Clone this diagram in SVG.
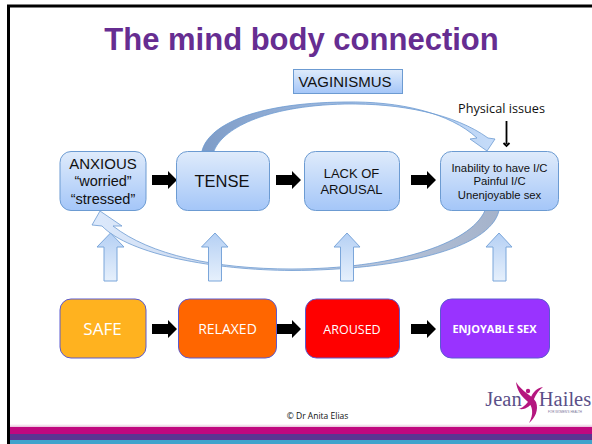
<svg xmlns="http://www.w3.org/2000/svg" width="592" height="444" viewBox="0 0 592 444">
<style>
text{font-family:"Liberation Sans",Arial,sans-serif;text-anchor:middle;fill:#111}
.c{font-family:"Open Sans","Noto Sans",sans-serif}
.w{fill:#fff}
.blue{fill:url(#bg);stroke:#6c9bd2;stroke-width:1}
.col{stroke:#5a5ad0;stroke-width:1}
.up{fill:url(#ug);stroke:#7ba6da;stroke-width:1}
</style>
<defs>
<linearGradient id="bg" x1="0" y1="0" x2="0" y2="1"><stop offset="0" stop-color="#dfebfb"/><stop offset="1" stop-color="#a4c6f8"/></linearGradient>
<linearGradient id="ug" x1="0" y1="0" x2="0" y2="1"><stop offset="0" stop-color="#b5d0f4"/><stop offset="1" stop-color="#e6f0fc"/></linearGradient>
<linearGradient id="tg" gradientUnits="userSpaceOnUse" x1="205" y1="150" x2="490" y2="150"><stop offset="0" stop-color="#7f9dc8"/><stop offset="1" stop-color="#c4dbf9"/></linearGradient>
<linearGradient id="bgc" gradientUnits="userSpaceOnUse" x1="495" y1="210" x2="100" y2="225"><stop offset="0" stop-color="#a5b3cb"/><stop offset="1" stop-color="#dbe8fb"/></linearGradient>
<linearGradient id="fade" x1="0" y1="0" x2="0" y2="1"><stop offset="0" stop-color="#fff"/><stop offset="1" stop-color="#e8c0da"/></linearGradient>
<path id="ba" d="M0-5H16V-9L25 0L16 9V5H0Z" fill="#000"/>
</defs>
<rect width="592" height="444" fill="#fff"/>
<rect x="8.500" y="6" width="600" height="500" fill="none" stroke="#000" stroke-width="3"/>
<rect x="10" y="424" width="582" height="3" fill="url(#fade)"/>
<rect x="10" y="427" width="582" height="7" fill="#c0087f"/>
<rect x="10" y="434" width="582" height="6" fill="#5b3592"/>
<rect x="10" y="440" width="582" height="4" fill="#3fa3cc"/>
<text x="301.500" y="50" font-size="31" font-weight="700" style="fill:#662d91">The mind body connection</text>
<g id="connectors">
<path d="M202 151C208 127 250 103 345 102C400 101 450 113 477 138L470 139L487 151L495 139L488 138C455 114 400 103 345 104C262 106 222 130 214 151Z" fill="url(#tg)" stroke="#6c9bd2" stroke-width=".8"/>
<path d="M485 210.500C470 245 390 269 292 269C215 269 150 255 113 226L122 226L100 211L92 225L102 226C130 255 215 270 292 270.500C395 270 490 250 499 210.500Z" fill="url(#bgc)" stroke="#6c9bd2" stroke-width=".8"/>
<use href="#ba" x="152" y="180"/><use href="#ba" x="276" y="180"/><use href="#ba" x="411" y="180"/>
<use href="#ba" x="152" y="329"/><use href="#ba" x="276" y="329"/><use href="#ba" x="411" y="329"/>
<path class="up" d="M104 281V247H97L110.500 233L124 247H117V281Z"/>
<path class="up" d="M208.500 281V247H201.500L215 233L228 247H221.500V281Z"/>
<path class="up" d="M340.500 281V247H334L347 233L360 247H353.500V281Z"/>
<path class="up" d="M493 281V247H486L499 233L512 247H506V281Z"/>
<path d="M506.500 121V144M503.500 143L506.500 146L509.500 143" fill="none" stroke="#000" stroke-width="1.800"/>
</g>
<g id="vaginismus"><rect class="blue" x="293.500" y="69.500" width="109" height="24"/><text x="345" y="87" font-size="15">VAGINISMUS</text></g>
<text id="physical" class="c" x="501.500" y="113" font-size="12.700">Physical issues</text>
<g id="anxious"><rect class="blue" x="60" y="151.500" width="86" height="59" rx="11"/><text x="103" y="169" font-size="15">ANXIOUS</text><text x="103" y="186" font-size="14.500">“worried”</text><text x="103" y="204" font-size="14.500">“stressed”</text></g>
<g id="tense"><rect class="blue" x="176.500" y="151.500" width="93" height="59" rx="11"/><text x="222" y="187" font-size="16.500">TENSE</text></g>
<g id="lack"><rect class="blue" x="304.500" y="151.500" width="95" height="59" rx="11"/><text x="351.500" y="178" font-size="13">LACK OF</text><text x="351.500" y="194" font-size="13">AROUSAL</text></g>
<g id="inability"><rect class="blue" x="440.500" y="151.500" width="118" height="59" rx="11"/><text x="499.500" y="171.500" font-size="11.300">Inability to have I/C</text><text x="499.500" y="185" font-size="11.300">Painful I/C</text><text x="499.500" y="199" font-size="11.300">Unenjoyable sex</text></g>
<g id="safe"><rect class="col" x="60" y="299" width="86" height="59" rx="11" fill="#ffb21f"/><text class="c w" x="102.500" y="335" font-size="17">SAFE</text></g>
<g id="relaxed"><rect class="col" x="178.500" y="299" width="98" height="59" rx="11" fill="#ff6600"/><text class="c w" x="227.500" y="334" font-size="14">RELAXED</text></g>
<g id="aroused"><rect class="col" x="305.500" y="299" width="94" height="59" rx="11" fill="#ff0000"/><text class="c w" x="352" y="334" font-size="12.500">AROUSED</text></g>
<g id="enjoyable"><rect class="col" x="440.500" y="299" width="109" height="59" rx="11" fill="#9933ff"/><text class="c w" x="494.500" y="333" font-size="11" font-weight="700">ENJOYABLE SEX</text></g>
<text id="copyright" class="c" x="317.500" y="419" font-size="8.500">© Dr Anita Elias</text>
<g id="logo">
<text x="503.500" y="405.500" font-size="20.500" style="fill:#5b5088;font-family:'Liberation Serif',serif">Jean</text>
<text x="565" y="405.500" font-size="20.500" style="fill:#5b5088;font-family:'Liberation Serif',serif">Hailes</text>
<text x="565" y="413" font-size="3" style="fill:#7a7298">FOR WOMEN'S HEALTH</text>
<path d="M516 382C517 390 521 396 527 401C533 406 534 414 529 423C535 418 539 410 536 402C532 395 522 392 516 382ZM543 387C537 388 533 392 531 397C528 403 524 407 519 409C526 410 531 406 534 399C536 394 539 390 543 387Z" fill="#b5177f"/>
<circle cx="528" cy="391" r="2.200" fill="#b5177f"/>
</g>
</svg>
